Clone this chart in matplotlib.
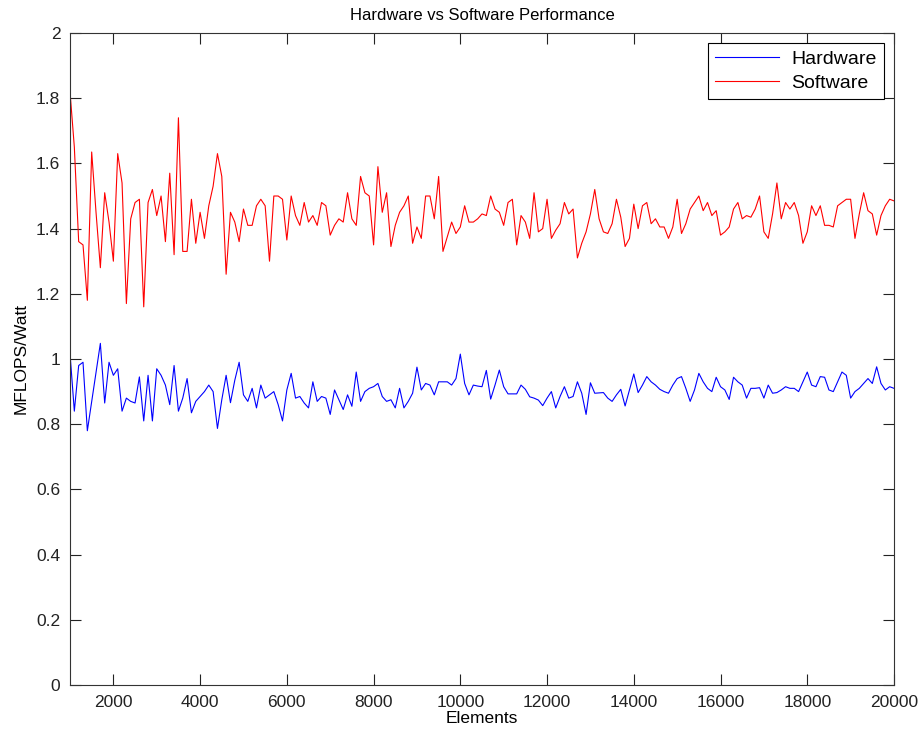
# Hardware vs Software: MFLOPS/Watt por número de elementos (estilo MATLAB)
import matplotlib
matplotlib.use("Agg")
import matplotlib.pyplot as plt
import numpy as np
from matplotlib.ticker import FormatStrFormatter, FuncFormatter

plt.rcParams["font.family"] = ["Liberation Sans", "DejaVu Sans"]

elements = np.arange(1000, 20001, 100)

hardware = [
    1.017, 0.84, 0.98, 0.99, 0.78, 0.87, 0.96, 1.048, 0.865, 0.99, 0.95, 0.97, 0.84, 0.88, 0.87, 0.865, 0.945, 0.81, 0.95, 0.81, 0.97,
    0.95, 0.92, 0.86, 0.98, 0.84, 0.88, 0.94, 0.835, 0.87, 0.885, 0.90, 0.92, 0.90, 0.787, 0.875, 0.95, 0.866, 0.935, 0.99, 0.89, 0.87, 0.91, 0.85, 0.92,
    0.88, 0.89, 0.90, 0.86, 0.81, 0.905, 0.956, 0.88, 0.885, 0.865, 0.85, 0.93, 0.87, 0.885, 0.88, 0.83, 0.905, 0.875, 0.845, 0.89, 0.855, 0.96, 0.87, 0.90, 0.91,
    0.915, 0.925, 0.885, 0.87, 0.875, 0.85, 0.91, 0.85, 0.87, 0.895, 0.975, 0.905, 0.925, 0.92, 0.89, 0.93, 0.93, 0.93, 0.92, 0.94, 1.015, 0.925, 0.89, 0.92,
    0.917, 0.915, 0.965, 0.877, 0.92, 0.966, 0.915, 0.893, 0.893, 0.893, 0.92, 0.907, 0.884, 0.88, 0.874, 0.857, 0.88, 0.90, 0.85, 0.885, 0.915, 0.88, 0.885, 0.93,
    0.895, 0.83, 0.927, 0.895, 0.896, 0.897, 0.88, 0.87, 0.89, 0.907, 0.856, 0.905, 0.954, 0.897, 0.92, 0.946, 0.93, 0.92, 0.907, 0.90, 0.895, 0.92, 0.94, 0.946,
    0.91, 0.87, 0.905, 0.956, 0.93, 0.91, 0.90, 0.944, 0.915, 0.905, 0.876, 0.944, 0.93, 0.92, 0.88, 0.91, 0.91, 0.912, 0.88, 0.92, 0.895, 0.897, 0.905, 0.915, 0.91,
    0.91, 0.90, 0.93, 0.96, 0.92, 0.915, 0.946, 0.944, 0.905, 0.90, 0.93, 0.96, 0.95, 0.88, 0.90, 0.91, 0.925, 0.94, 0.925, 0.976, 0.925, 0.905, 0.915, 0.91,
]

software = [
    1.82, 1.65, 1.36, 1.35, 1.18, 1.635, 1.45, 1.28, 1.51, 1.42, 1.30, 1.63, 1.54, 1.17, 1.43, 1.48, 1.49, 1.16, 1.48, 1.52, 1.44,
    1.50, 1.36, 1.57, 1.32, 1.74, 1.33, 1.33, 1.49, 1.355, 1.45, 1.37, 1.47, 1.53, 1.63, 1.56, 1.26, 1.45, 1.42, 1.36, 1.46, 1.41, 1.41, 1.47, 1.49,
    1.47, 1.30, 1.50, 1.50, 1.49, 1.365, 1.50, 1.44, 1.41, 1.48, 1.42, 1.44, 1.41, 1.48, 1.47, 1.38, 1.41, 1.43, 1.42, 1.51, 1.43, 1.41, 1.56, 1.51, 1.50,
    1.35, 1.59, 1.45, 1.51, 1.345, 1.41, 1.45, 1.47, 1.50, 1.355, 1.405, 1.37, 1.50, 1.50, 1.43, 1.56, 1.33, 1.375, 1.42, 1.385, 1.405, 1.47, 1.42, 1.42,
    1.43, 1.445, 1.44, 1.50, 1.46, 1.45, 1.41, 1.48, 1.49, 1.35, 1.44, 1.42, 1.37, 1.51, 1.39, 1.40, 1.49, 1.37, 1.395, 1.415, 1.48, 1.445, 1.46, 1.31,
    1.355, 1.39, 1.445, 1.52, 1.43, 1.39, 1.385, 1.415, 1.49, 1.435, 1.345, 1.37, 1.475, 1.40, 1.47, 1.48, 1.415, 1.43, 1.405, 1.405, 1.37, 1.405, 1.49, 1.385,
    1.415, 1.46, 1.48, 1.50, 1.455, 1.48, 1.44, 1.455, 1.38, 1.39, 1.405, 1.46, 1.48, 1.43, 1.44, 1.435, 1.46, 1.50, 1.39, 1.37, 1.445, 1.54, 1.43, 1.48, 1.46,
    1.48, 1.44, 1.355, 1.39, 1.47, 1.44, 1.47, 1.41, 1.41, 1.405, 1.47, 1.48, 1.49, 1.49, 1.37, 1.445, 1.51, 1.455, 1.445, 1.38, 1.44, 1.47, 1.49, 1.485,
]

x_ticks = np.arange(2000, 20001, 2000)
y_ticks = np.arange(0, 2.01, 0.2)

fig = plt.figure(figsize=(9.23, 7.36), dpi=100)
ax = fig.add_axes([70 / 923, 51 / 736, 824 / 923, 652 / 736])

ax.plot(elements, hardware, color="#0000ff", linewidth=0.8, label="Hardware")
ax.plot(elements, software, color="#ff0000", linewidth=0.8, label="Software")

ax.set_xlim(1000, 20000)
ax.set_ylim(0, 2)
ax.set_xticks(x_ticks)
ax.set_yticks(y_ticks)
ax.yaxis.set_major_formatter(FuncFormatter(lambda v, _: f"{v:g}"))
ax.xaxis.set_major_formatter(FormatStrFormatter("%d"))

ax.tick_params(direction="in", length=8, width=0.8, top=True, right=True,
               labelsize=12.5, colors="#222222", pad=7)
for spine in ax.spines.values():
    spine.set_linewidth(0.8)
    spine.set_color("#333333")

ax.set_title("Hardware vs Software Performance", fontsize=12, pad=9)
ax.set_xlabel("Elements", fontsize=12.5, labelpad=1)
ax.set_ylabel("MFLOPS/Watt", fontsize=12.5, labelpad=5)

leg = ax.legend(loc="upper right", fontsize=14, fancybox=False, frameon=True,
                edgecolor="#000000", framealpha=1, handlelength=3.3,
                borderaxespad=0.5, borderpad=0.4, labelspacing=0.3,
                handletextpad=0.6)
leg.get_frame().set_linewidth(0.8)

fig.savefig("out.png", dpi=100, facecolor="white")
